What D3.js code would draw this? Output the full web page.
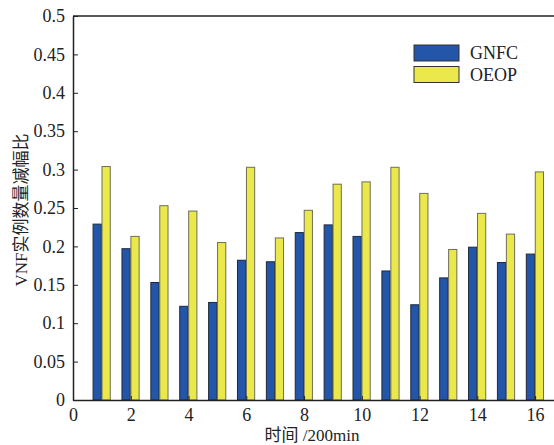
<!DOCTYPE html>
<html>
<head>
<meta charset="utf-8">
<script src="https://cdn.jsdelivr.net/npm/d3@7"></script>
<style>
  body { margin: 0; background: #fff; }
  svg text { font-family: "Liberation Serif", "Noto Sans CJK SC", serif; fill: #222; }
</style>
</head>
<body>
<div id="chart"></div>
<script>
// data
const slots = [1, 2, 3, 4, 5, 6, 7, 8, 9, 10, 11, 12, 13, 14, 15, 16];
const gnfc = [0.229, 0.197, 0.153, 0.122, 0.127, 0.182, 0.180, 0.218, 0.228, 0.213, 0.168, 0.124, 0.159, 0.199, 0.179, 0.190];
const oeop = [0.304, 0.213, 0.253, 0.246, 0.205, 0.303, 0.211, 0.247, 0.281, 0.284, 0.303, 0.269, 0.196, 0.243, 0.216, 0.297];
const seriesNames = ["GNFC", "OEOP"];
const xTicks = [0, 2, 4, 6, 8, 10, 12, 14, 16];
const yTicks = [0, 0.05, 0.1, 0.15, 0.2, 0.25, 0.3, 0.35, 0.4, 0.45, 0.5];

const width = 554, height = 445;
const margin = {top: 16, left: 73, bottom: 45};

const svg = d3.select("#chart")
  .append("svg")
  .attr("width", width)
  .attr("height", height);

const x = d3.scaleLinear()
  .domain([0, 17])
  .range([margin.left, 564]);

const y = d3.scaleLinear()
  .domain([0, 0.5])
  .range([height - margin.bottom, margin.top]);

const color = d3.scaleOrdinal()
  .domain(seriesNames)
  .range(["#2356a8", "#ebe84c"]);
const stroke = d3.scaleOrdinal()
  .domain(seriesNames)
  .range(["#1e2a3a", "#6e6e5a"]);

// bar offset of each series inside a group (in x units)
const offset = d3.scaleOrdinal()
  .domain(seriesNames)
  .range([-0.305, 0.005]);
const barW = 0.285;

const rows = slots.map((s, i) => ({slot: s, GNFC: gnfc[i], OEOP: oeop[i]}));

// bars
svg.append("g")
  .selectAll("g")
  .data(rows)
  .join("g")
  .selectAll("rect")
  .data(d => seriesNames.map(k => ({key: k, slot: d.slot, value: d[k]})))
  .join("rect")
    .attr("x", d => x(d.slot + offset(d.key)))
    .attr("y", d => y(d.value))
    .attr("width", d => x(barW) - x(0))
    .attr("height", d => y(0) - y(d.value))
    .attr("fill", d => color(d.key))
    .attr("stroke", d => stroke(d.key))
    .attr("stroke-width", 1);

// x axis
const xAxis = svg.append("g")
  .attr("transform", `translate(0, ${y(0)})`)
  .call(d3.axisBottom(x).tickValues(xTicks).tickFormat(d3.format("d")).tickSizeInner(-4).tickSizeOuter(0).tickPadding(8));
xAxis.select(".domain").attr("stroke", "#222").attr("stroke-width", 1.5);
xAxis.selectAll(".tick line").attr("stroke", "#222");
xAxis.selectAll("text").style("font-size", "18px");

// y axis
const yAxis = svg.append("g")
  .attr("transform", `translate(${margin.left}, 0)`)
  .call(d3.axisLeft(y).tickValues(yTicks).tickFormat(d => String(d)).tickSizeInner(-5).tickSizeOuter(0).tickPadding(8));
yAxis.select(".domain").attr("stroke", "#222").attr("stroke-width", 1.5);
yAxis.selectAll(".tick line").attr("stroke", "#222");
yAxis.selectAll("text").style("font-size", "18px");

// top frame line
svg.append("line")
  .attr("x1", x(0)).attr("x2", x(17))
  .attr("y1", y(0.5)).attr("y2", y(0.5))
  .attr("stroke", "#222").attr("stroke-width", 1.5);

// axis titles
svg.append("text")
  .attr("x", 312)
  .attr("y", 441)
  .attr("text-anchor", "middle")
  .style("font-size", "17px")
  .text("时间 /200min");

svg.append("text")
  .attr("transform", "translate(27, 210) rotate(-90)")
  .attr("text-anchor", "middle")
  .style("font-size", "17px")
  .text("VNF实例数量减幅比");

// legend
const legend = svg.append("g")
  .selectAll("g")
  .data(seriesNames)
  .join("g")
  .attr("transform", (d, i) => `translate(414, ${45 + i * 21.5})`);
legend.append("rect")
  .attr("width", 45)
  .attr("height", 16)
  .attr("fill", d => color(d))
  .attr("stroke", "#333")
  .attr("stroke-width", 1);
legend.append("text")
  .attr("x", 56)
  .attr("y", 14)
  .style("font-size", "18px")
  .text(d => d);
</script>
</body>
</html>
